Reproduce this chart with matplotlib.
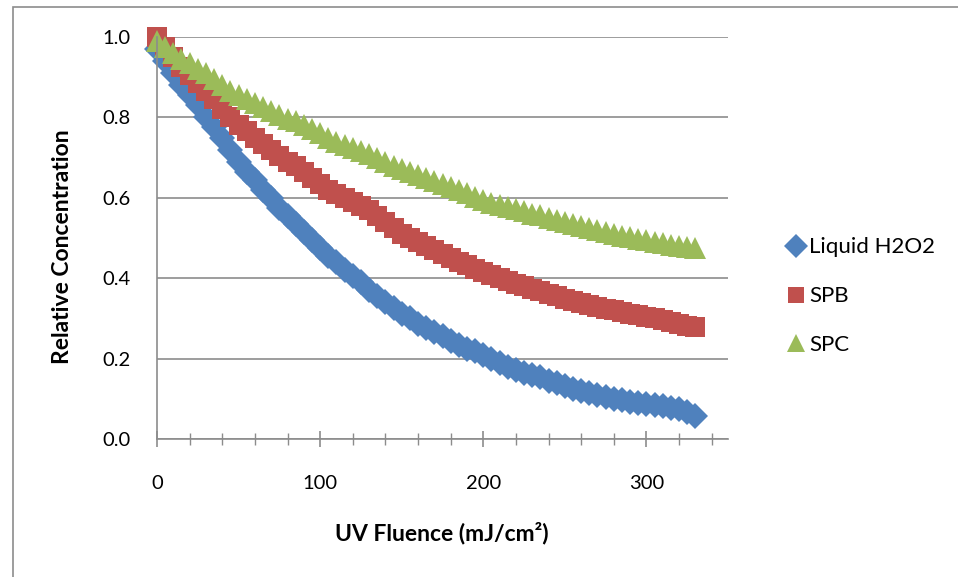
import matplotlib
matplotlib.use("Agg")
import matplotlib.pyplot as plt
from matplotlib.patches import Rectangle
from matplotlib.ticker import MultipleLocator

plt.rcParams['font.family'] = ['Lato', 'DejaVu Sans']

fluence = list(range(0, 335, 5))

liquid_h2o2 = [0.97, 0.94, 0.91, 0.88, 0.855, 0.83, 0.80, 0.775, 0.75, 0.72,
               0.69, 0.665, 0.645, 0.62, 0.60, 0.575, 0.555, 0.535, 0.515, 0.495,
               0.475, 0.455, 0.44, 0.42, 0.405, 0.39, 0.37, 0.355, 0.34, 0.325,
               0.31, 0.30, 0.285, 0.275, 0.265, 0.255, 0.245, 0.235, 0.225, 0.22,
               0.21, 0.20, 0.19, 0.18, 0.172, 0.165, 0.16, 0.155, 0.145, 0.14,
               0.132, 0.125, 0.12, 0.115, 0.11, 0.105, 0.10, 0.097, 0.093, 0.09,
               0.088, 0.085, 0.082, 0.078, 0.075, 0.068, 0.058]

spb = [1.0, 0.975, 0.95, 0.925, 0.905, 0.885, 0.865, 0.845, 0.82, 0.80,
       0.78, 0.765, 0.75, 0.735, 0.72, 0.705, 0.69, 0.68, 0.665, 0.65,
       0.635, 0.62, 0.61, 0.60, 0.59, 0.58, 0.57, 0.555, 0.54, 0.525,
       0.51, 0.50, 0.49, 0.48, 0.47, 0.46, 0.45, 0.44, 0.432, 0.424,
       0.416, 0.408, 0.40, 0.393, 0.386, 0.38, 0.373, 0.367, 0.36, 0.355,
       0.349, 0.343, 0.338, 0.333, 0.328, 0.324, 0.32, 0.316, 0.312, 0.308,
       0.304, 0.30, 0.296, 0.29, 0.286, 0.282, 0.279]

spc = [0.99, 0.975, 0.96, 0.945, 0.935, 0.92, 0.91, 0.895, 0.88, 0.865,
       0.855, 0.845, 0.835, 0.825, 0.815, 0.805, 0.797, 0.79, 0.78, 0.77,
       0.76, 0.75, 0.74, 0.732, 0.725, 0.717, 0.708, 0.70, 0.69, 0.68,
       0.672, 0.665, 0.657, 0.65, 0.642, 0.635, 0.627, 0.62, 0.612, 0.603,
       0.595, 0.588, 0.582, 0.577, 0.572, 0.566, 0.56, 0.556, 0.55, 0.545,
       0.54, 0.535, 0.53, 0.524, 0.519, 0.515, 0.51, 0.506, 0.503, 0.498,
       0.495, 0.49, 0.487, 0.483, 0.48, 0.477, 0.475]

series_names = ["Liquid H2O2", "SPB", "SPC"]
colors = ["#4F81BD", "#C0504D", "#9BBB59"]
markers = ["D", "s", "^"]
msizes = [13.5, 14, 16]
legend_sizes = [12.5, 12, 13]

W, H = 958, 577
fig = plt.figure(figsize=(W / 100, H / 100), dpi=100)
ax = fig.add_axes([157 / W, (H - 439) / H, (728 - 157) / W, (439 - 37) / H])

handles = []
for ys, name, c, m, ms, lms in zip([liquid_h2o2, spb, spc], series_names, colors,
                                   markers, msizes, legend_sizes):
    ax.plot(fluence, ys, linestyle="none", marker=m, markersize=ms,
            color=c, markeredgewidth=0, clip_on=False)
    h, = ax.plot([], [], linestyle="none", marker=m, markersize=lms,
                 color=c, markeredgewidth=0, label=name)
    handles.append(h)

ax.set_xlim(0, 350)
ax.set_ylim(0, 1.0)
ax.xaxis.set_major_locator(MultipleLocator(100))
ax.xaxis.set_minor_locator(MultipleLocator(20))
ax.yaxis.set_major_locator(MultipleLocator(0.2))
ax.yaxis.set_major_formatter(matplotlib.ticker.FormatStrFormatter("%.1f"))

ax.grid(axis="y", color="#8C8C8C", linewidth=1.2)
ax.set_axisbelow(True)
for s in ["top", "right"]:
    ax.spines[s].set_visible(False)
for s in ["left", "bottom"]:
    ax.spines[s].set_color("#8C8C8C")
    ax.spines[s].set_linewidth(1.2)

ax.tick_params(axis="x", which="major", direction="inout", length=12, width=1.2,
               color="#8C8C8C", pad=20, labelsize=14.5)
ax.tick_params(axis="x", which="minor", direction="inout", length=8, width=1.0,
               color="#8C8C8C")
ax.tick_params(axis="y", which="both", length=0, pad=19, labelsize=14.5)

ax.set_xlabel("UV Fluence (mJ/cm²)", fontsize=16.5, fontweight="bold")
ax.set_ylabel("Relative Concentration", fontsize=16.5, fontweight="bold")
ax.xaxis.set_label_coords((442 - 157) / 571, (439 - 522) / 402)
ax.yaxis.set_label_coords((73 - 157) / 571, (439 - 247) / 402)

leg = ax.legend(handles=handles, loc="center left", bbox_to_anchor=(1.09, 0.355),
                frameon=False, fontsize=16, handlelength=0.7, handletextpad=0.25,
                labelspacing=1.3, borderaxespad=0)

fig.patches.append(Rectangle((13 / W, -0.1), 1.2, (H - 7) / H + 0.1,
                             transform=fig.transFigure, fill=False,
                             edgecolor="#8C8C8C", linewidth=1.2))

fig.savefig("out.png", dpi=100)
